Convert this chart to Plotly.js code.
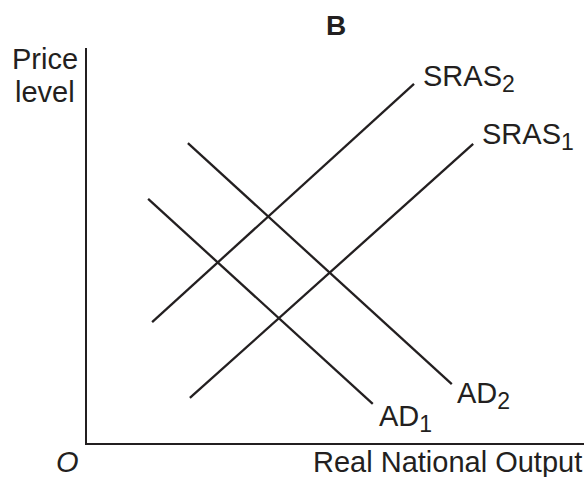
<!DOCTYPE html>
<html>
<head>
<meta charset="utf-8">
<script src="https://cdn.plot.ly/plotly-3.0.1.min.js"></script>
<style>html,body{margin:0;padding:0;background:#fff;}#chart{width:587px;height:477px;}</style>
</head>
<body>
<div id="chart"></div>
<script>
// Curves: [start, end] in chart units (output 0-100, price level 0-100)
const sras1X = [20.7, 77.7];
const sras1Y = [11.4, 75.7];
const sras2X = [13.1, 65.8];
const sras2Y = [30.6, 90.9];
const ad1X = [12.3, 57.5];
const ad1Y = [61.8, 9.9];
const ad2X = [20.3, 73.4];
const ad2Y = [75.9, 14.9];

const curveBase = ['SRAS', 'SRAS', 'AD', 'AD'];
const curveSub = ['1', '2', '1', '2'];
const titleText = 'B';
const yLabelLines = ['Price', 'level'];
const xLabel = 'Real National Output';
const originLabel = 'O';

const ink = '#231f20';
const fam = '"Liberation Sans", Arial, Helvetica, sans-serif';
const fs = 29;

const curveNames = curveBase.map((b, i) => b + '<sub><span style="font-size:23px">' + curveSub[i] + '</span></sub>');

const series = [[sras1X, sras1Y], [sras2X, sras2Y], [ad1X, ad1Y], [ad2X, ad2Y]];
const traces = series.map((s, i) => ({
  x: s[0], y: s[1], mode: 'lines', type: 'scatter', name: curveBase[i] + curveSub[i],
  line: {color: ink, width: 2.3}, hoverinfo: 'skip', showlegend: false
}));

// label positions (chart units)
const labelPos = [
  {x: 79.0, y: 77.6},
  {x: 67.2, y: 92.2},
  {x: 58.4, y: 6.2},
  {x: 74.1, y: 12.1}
];

const annotations = curveNames.map((t, i) => ({
  x: labelPos[i].x, y: labelPos[i].y, xref: 'x', yref: 'y',
  text: t, showarrow: false, xanchor: 'left', yanchor: 'middle',
  font: {family: fam, size: fs, color: ink}
}));

annotations.push({
  xref: 'paper', yref: 'paper', x: -0.0845, y: (443 - 59) / 395,
  text: yLabelLines[0], showarrow: false, xanchor: 'center', yanchor: 'middle',
  font: {family: fam, size: fs, color: ink}
});
annotations.push({
  xref: 'paper', yref: 'paper', x: -0.0845, y: (443 - 92) / 395,
  text: yLabelLines[1], showarrow: false, xanchor: 'center', yanchor: 'middle',
  font: {family: fam, size: fs, color: ink}
});
annotations.push({
  xref: 'paper', yref: 'paper', x: (67 - 87) / 497, y: (443 - 462) / 395,
  text: '<i>' + originLabel + '</i>', showarrow: false, xanchor: 'center', yanchor: 'middle',
  font: {family: fam, size: fs, color: ink}
});
annotations.push({
  xref: 'paper', yref: 'paper', x: (584 - 87) / 497, y: (443 - 462) / 395,
  text: xLabel, showarrow: false, xanchor: 'right', yanchor: 'middle',
  font: {family: fam, size: fs, color: ink}
});

const layout = {
  width: 587, height: 477,
  margin: {l: 87, r: 3, t: 48, b: 34, pad: 0},
  paper_bgcolor: '#fff', plot_bgcolor: '#fff',
  title: {text: '<b>' + titleText + '</b>', x: (336 - 87) / 497, xref: 'paper', xanchor: 'center',
          y: 1 - 25 / 477, yref: 'container', yanchor: 'middle',
          font: {family: fam, size: 28, color: ink}},
  xaxis: {range: [0, 100], showgrid: false, zeroline: false, showticklabels: false, ticks: '',
          showline: true, linecolor: ink, linewidth: 2, fixedrange: true},
  yaxis: {range: [0, 100], showgrid: false, zeroline: false, showticklabels: false, ticks: '',
          showline: true, linecolor: ink, linewidth: 2, fixedrange: true},
  annotations: annotations,
  showlegend: false
};

Plotly.newPlot('chart', traces, layout, {displayModeBar: false, staticPlot: true});
</script>
</body>
</html>
